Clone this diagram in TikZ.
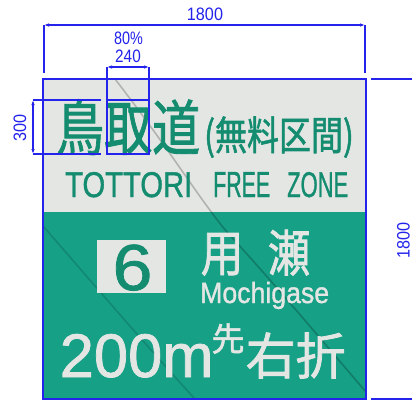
\documentclass[tikz,border=0pt]{standalone}
\usepackage{fontspec}
\usepackage{graphicx}
\setmainfont{Liberation Sans}
\newfontfamily\jpf[FakeBold=1.5]{Noto Sans CJK JP}
\newfontfamily\latf{Liberation Sans}
\newfontfamily\latm[FakeBold=1.2]{Liberation Sans}
\usetikzlibrary{arrows.meta}
\definecolor{signgreen}{RGB}{22,160,134}
\definecolor{signwhite}{RGB}{228,230,228}
\definecolor{inkgreen}{RGB}{20,140,112}
\definecolor{dimblue}{RGB}{35,35,235}
\newcommand{\hsq}[2]{\scalebox{#1}[1]{#2}}
\begin{document}
\begin{tikzpicture}[x=1pt,y=-1pt,
  dimline/.style={draw=dimblue, line width=1.1pt},
  dimarrow/.style={dimline, {Latex[length=5pt,width=3.5pt]}-{Latex[length=5pt,width=3.5pt]}},
  dimtext/.style={text=dimblue, inner sep=0pt, font=\latf\fontsize{18}{18}\selectfont},
  gtxt/.style={text=inkgreen, inner sep=0pt},
  wtxt/.style={text=signwhite, inner sep=0pt},
  streak/.style={draw=black, opacity=0.22, line width=1.6pt}]

\useasboundingbox[fill=white] (0,0) rectangle (412,402);

% sign panel
\coordinate (sTL) at (43,79);
\coordinate (sBR) at (366,399);
\fill[signgreen] (sTL) rectangle (sBR);
\fill[signwhite] (43,79) rectangle (366,212);
\begin{scope}
  \clip (sTL) rectangle (sBR);
  \draw[streak] (115,79) .. controls (170,150) and (200,200) .. (227,232) .. controls (280,290) and (330,350) .. (366,392);
  \draw[streak, opacity=0.15] (43,226) .. controls (90,280) and (150,350) .. (195,399);
\end{scope}
\draw[dimblue, line width=1.2pt] (sTL) rectangle (sBR);

% line 1
\node[gtxt, anchor=base west] (toriDo) at (56,150) {\jpf\fontsize{60}{60}\selectfont\hsq{0.8}{鳥取道}};
\node[gtxt, anchor=base west] (muryo) at (204,150) {\jpf\fontsize{40}{40}\selectfont\hsq{0.8}{(無料区間)}};

% line 2
\node[gtxt, anchor=base west] (w1) at (65,197) {\resizebox{127pt}{25pt}{\latm TOTTORI}};
\node[gtxt, anchor=base west] (w2) at (213,197) {\resizebox{57pt}{25pt}{\latm FREE}};
\node[gtxt, anchor=base west] (w3) at (287,197) {\resizebox{61pt}{25pt}{\latm ZONE}};

% route number
\fill[signwhite] (97,240) rectangle (166,293);
\node[gtxt, anchor=base] (six) at (132.5,290) {\latm\fontsize{65}{65}\selectfont\hsq{1.1}{6}};

% destination
\node[wtxt, anchor=base] (mochi1) at (222,271.5) {\jpf\fontsize{50}{50}\selectfont\hsq{0.85}{用}};
\node[wtxt, anchor=base] (mochi2) at (289,271.5) {\jpf\fontsize{50}{50}\selectfont\hsq{0.85}{瀬}};
\node[wtxt, anchor=base west] (mochiEn) at (200,303) {\latm\fontsize{29.3}{29.3}\selectfont\hsq{0.91}{Mochigase}};

% distance line
\node[wtxt, anchor=base west] (dist) at (59.5,377) {\latm\fontsize{61.5}{61.5}\selectfont 200m};
\node[wtxt, anchor=base] (saki) at (228,351) {\jpf\fontsize{33}{33}\selectfont 先};
\node[wtxt, anchor=base west] (usetsu) at (245.5,374.5) {\jpf\fontsize{50}{50}\selectfont 右折};

% ---- dimensions ----
% overall width
\coordinate (wL) at (44,25);
\coordinate (wR) at (365,25);
\coordinate (wLe) at (44,73);
\coordinate (wRe) at (365,73);
\draw[dimline] (wL) -- (wLe);
\draw[dimline] (wR) -- (wRe);
\draw[dimarrow] (wL) -- (wR);
\node[dimtext, anchor=base] (wtext) at (205,20) {\hsq{0.9}{1800}};

% character width
\coordinate (cL) at (107,67);
\coordinate (cR) at (149,67);
\coordinate (cLb) at (107,100);
\coordinate (cRb) at (149,100);
\draw[dimline] (cL) -- (cLb);
\draw[dimline] (cR) -- (cRb);
\draw[dimarrow] (cL) -- (cR);
\draw[dimline] (107,100) rectangle (149,154);
\node[dimtext, anchor=base] (pct) at (128.5,44) {\hsq{0.8}{80\%}};
\node[dimtext, anchor=base] (ctext) at (128,62) {\hsq{0.85}{240}};

% character height
\coordinate (hT) at (33,100);
\coordinate (hB) at (33,154);
\coordinate (hTe) at (101,100);
\coordinate (hBe) at (101,154);
\draw[dimline] (hT) -- (hTe);
\draw[dimline] (hB) -- (hBe);
\draw[dimarrow] (hT) -- (hB);
\node[dimtext, rotate=90, anchor=center] (htext) at (20,127.5) {\hsq{0.9}{300}};

% overall height (extension lines only visible)
\coordinate (rT) at (371,79);
\coordinate (rTe) at (412,79);
\coordinate (rB) at (371,399);
\coordinate (rBe) at (412,399);
\draw[dimline] (rT) -- (rTe);
\draw[dimline] (rB) -- (rBe);
\node[dimtext, rotate=90, anchor=center] (rtext) at (403.5,240) {\hsq{0.9}{1800}};
\end{tikzpicture}
\end{document}
